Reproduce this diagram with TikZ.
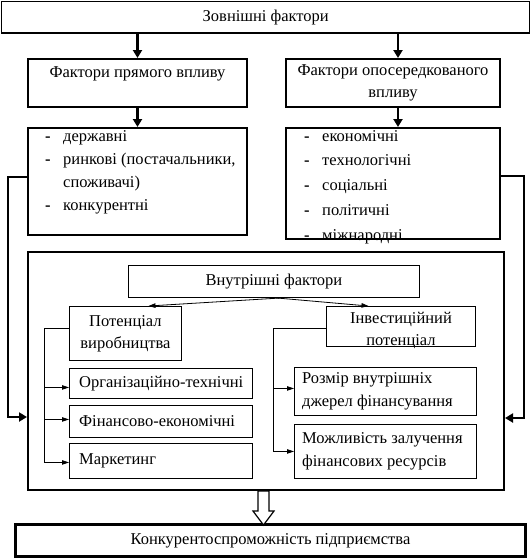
\documentclass[tikz,border=0pt]{standalone}
\usepackage{fontspec}
\setmainfont{Liberation Serif}
\usetikzlibrary{arrows.meta}
\begin{document}
\begin{tikzpicture}[x=1pt,y=-1pt,
  txt/.style={font=\fontsize{16.5}{22}\selectfont},
  bx/.style={draw, inner sep=0pt, anchor=north west, align=center, txt},
  outerbox/.style={bx, line width=2pt},
  innerbox/.style={bx, line width=0.9pt},
  listtxt/.style={anchor=north west, inner sep=0pt, align=left},
  lefttxt/.style={anchor=west, inner sep=0pt, align=left, font=\fontsize{16.5}{23}\selectfont},
  thk/.style={line width=2.6pt, -{Triangle[width=9pt,length=8pt]}},
  thn/.style={line width=0.8pt, -{Triangle[width=4.5pt,length=7pt]}}
]
\useasboundingbox (0,0) rectangle (530,558);
\newcommand\dsh{\makebox[18pt][l]{\textbf{-}}}

% external factors
\node[bx, line width=1.5pt, minimum width=528.5, minimum height=31.5] (top) at (0.75,0.75) {Зовнішні фактори};
\node[outerbox, minimum width=219, minimum height=48] (pr) at (27,58) {Фактори прямого впливу\\ \mbox{}};
\node[outerbox, minimum width=214, minimum height=48] (op) at (285,58) {Фактори опосередкованого\\впливу};
\node[outerbox, minimum width=219, minimum height=107] (lL) at (27,127) {};
\node[outerbox, minimum width=214, minimum height=111] (lR) at (285,127) {};
\node[listtxt, font=\fontsize{16.5}{23}\selectfont] (lLt) at (45,130) {\dsh державні\\ \dsh ринкові (постачальники,\\ \hspace*{18pt}споживачі)\\ \dsh конкурентні};
\node[listtxt, font=\fontsize{16.5}{24.8}\selectfont] (lRt) at (304,130) {\dsh економічні\\ \dsh технологічні\\ \dsh соціальні\\ \dsh політичні\\ \dsh міжнародні};

\draw[thk] (top.south -| pr.north) -- (pr.north);
\draw[thk] ([xshift=5pt]top.south -| op.north) -- ([xshift=5pt]op.north);
\draw[thk] (pr.south) -- (pr.south |- lL.north);
\draw[thk] ([xshift=5pt]op.south) -- ([xshift=5pt]op.south |- lR.north);

% internal factors
\node[bx, line width=2pt, minimum width=476, minimum height=238] (big) at (27,251) {};
\node[innerbox, minimum width=291, minimum height=32] (in) at (128,265) {Внутрішні фактори};
\node[innerbox, minimum width=112, minimum height=54] (pot) at (69,306) {Потенціал\\виробництва};
\node[innerbox, minimum width=149, minimum height=40] (inv) at (326,306) {};
\node[txt, align=center, inner sep=0pt] (invt) at ([yshift=-3.5pt]inv.center) {Інвестиційний\\потенціал};
\node[innerbox, minimum width=183, minimum height=30] (org) at (69,368) {};
\node[innerbox, minimum width=183, minimum height=32] (fin) at (69,405) {};
\node[innerbox, minimum width=183, minimum height=35] (mar) at (69,443) {};
\node[innerbox, minimum width=182, minimum height=48] (roz) at (294,367) {};
\node[innerbox, minimum width=182, minimum height=54] (moz) at (294,424) {};
\node[lefttxt] (orgt) at ([xshift=10pt]org.west) {Організаційно-технічні};
\node[lefttxt] (fint) at ([xshift=10pt]fin.west) {Фінансово-економічні};
\node[lefttxt] (mart) at ([xshift=10pt]mar.west) {Маркетинг};
\node[lefttxt] (rozt) at ([xshift=8pt]roz.west) {Розмір внутрішніх\\джерел фінансування};
\node[lefttxt] (mozt) at ([xshift=8pt]moz.west) {Можливість залучення\\фінансових ресурсів};

\draw[thn] ([xshift=8pt]in.south) -- ([xshift=23pt]pot.north);
\draw[thn] ([xshift=2pt]in.south) -- ([xshift=-32.5pt]inv.north);

\draw[thn] ([yshift=5pt]pot.west) -- ++(-25,0) |- ([yshift=-1.5pt]mar.west);
\draw[thn] ([xshift=-25pt,yshift=-4pt]org.west) -- ([yshift=-4pt]org.west);
\draw[thn] ([xshift=-25pt,yshift=2pt]fin.west) -- ([yshift=2pt]fin.west);
\draw[thn] ([yshift=-2pt]inv.west) -- ++(-53,0) |- (moz.west);
\draw[thn] ([xshift=-21pt,yshift=3pt]roz.west) -- ([yshift=3pt]roz.west);

% side connectors
\draw[thk] ([yshift=4.5pt]lL.west) -- ++(-19,0) |- ([yshift=-46pt]big.west);
\draw[thk] ([yshift=7.5pt]lR.east) -- ++(23,0) |- ([yshift=-47pt]big.east);

% result
\node[bx, line width=3pt, minimum width=510, minimum height=32] (bot) at (14,523) {Конкурентоспроможність підприємства};
\draw[line width=1.2pt, fill=white] ([xshift=-8pt]big.south) -- ++(11,0) -- ++(0,20) -- ++(5,0) -- ++(-10.5,14) -- ++(-10.5,-14) -- ++(5,0) -- cycle;
\end{tikzpicture}
\end{document}
